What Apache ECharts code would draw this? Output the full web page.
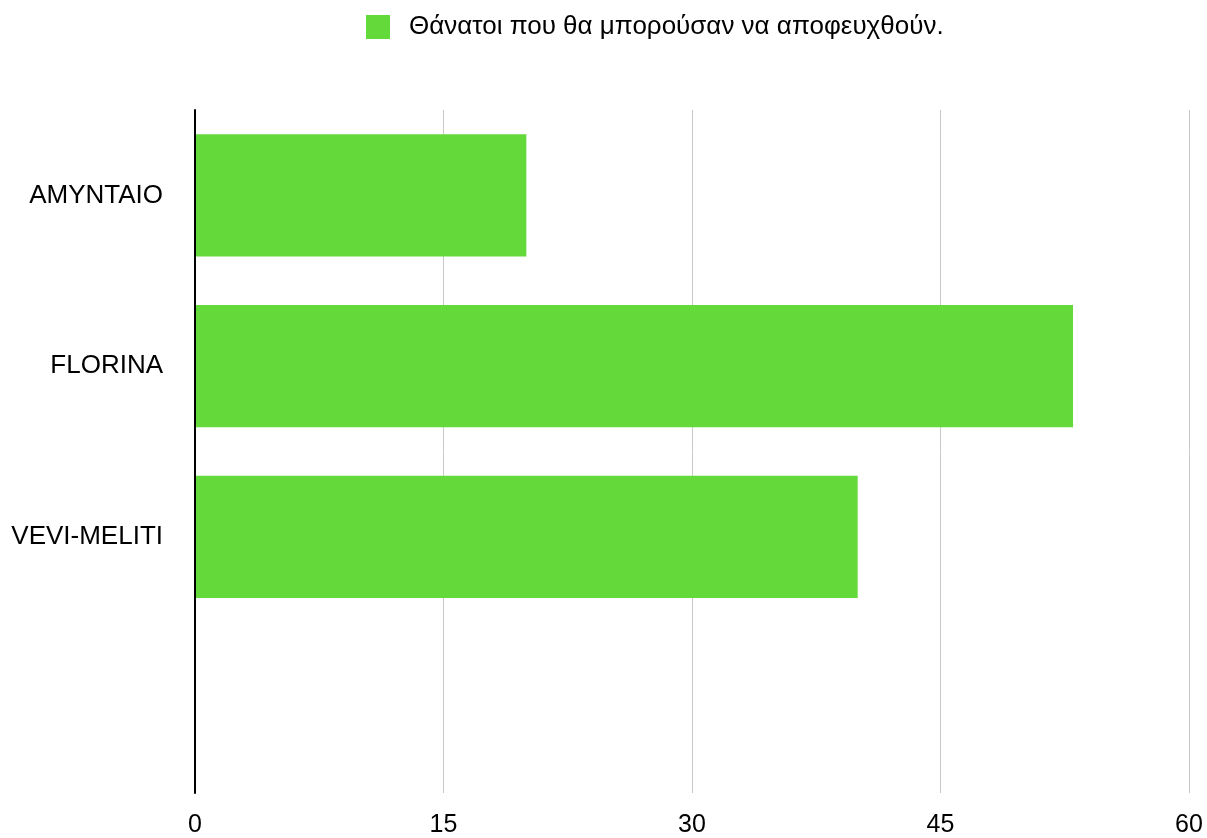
<!DOCTYPE html>
<html><head><meta charset="utf-8">
<script src="https://cdn.jsdelivr.net/npm/echarts@6/dist/echarts.min.js"></script>
<style>html,body{margin:0;padding:0;background:#fff}#c{width:1207px;height:838px}</style>
</head><body><div id="c"></div>
<script>
const categories = ['AMYNTAIO', 'FLORINA', 'VEVI-MELITI', ''];
const values = [20, 53, 40, null];
const seriesName = 'Θάνατοι που θα μπορούσαν να αποφευχθούν.';
const xTicks = [0, 15, 30, 45, 60];

const chart = echarts.init(document.getElementById('c'));
const font = '"Liberation Sans", Arial, Helvetica, sans-serif';
chart.setOption({
  animation: false,
  textStyle: { fontFamily: font },
  legend: {
    top: 9, left: 361,
    itemWidth: 24, itemHeight: 24, itemGap: 18,
    icon: 'rect',
    textStyle: { fontSize: 26, color: '#000', fontFamily: font, padding: [0, 0, 0, 14] },
    data: [seriesName]
  },
  grid: { left: 195, right: 18, top: 110, bottom: 33, containLabel: false },
  xAxis: {
    type: 'value', min: xTicks[0], max: xTicks[xTicks.length - 1], interval: 15,
    axisLine: { show: false }, axisTick: { show: false },
    splitLine: { show: true, lineStyle: { color: '#c8c8c8', width: 1 } },
    axisLabel: { fontSize: 25, color: '#000', margin: 20, fontFamily: font }
  },
  yAxis: {
    type: 'category', data: categories, inverse: true, z: 5,
    axisLine: { show: true, lineStyle: { color: '#000', width: 2 } },
    axisTick: { show: false },
    axisLabel: { fontSize: 26, color: '#000', margin: 32, fontFamily: font }
  },
  series: [{
    name: seriesName, type: 'bar', data: values,
    barCategoryGap: '28.5%',
    itemStyle: { color: '#63d93a' }
  }]
});
</script></body></html>
